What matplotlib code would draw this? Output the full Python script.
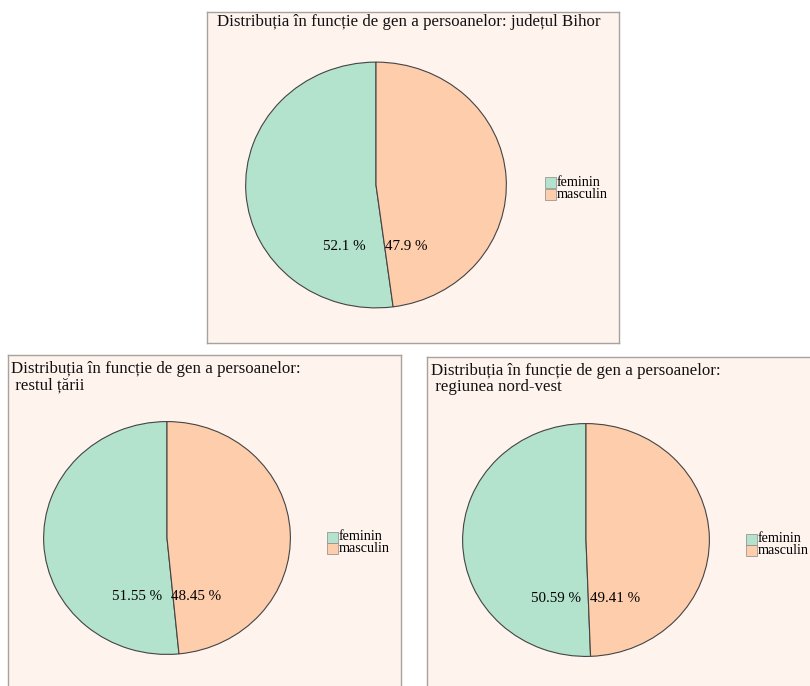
import matplotlib.pyplot as plt
from matplotlib.patches import Rectangle

plt.rcParams['font.family'] = ['Liberation Serif', 'DejaVu Serif']

categorii = ['feminin', 'masculin']
culori = ['#B3E2CD', '#FDCDAC']

titluri = [
    'Distribuția în funcție de gen a persoanelor: județul Bihor',
    'Distribuția în funcție de gen a persoanelor:\n restul țării',
    'Distribuția în funcție de gen a persoanelor:\n regiunea nord-vest',
]
bihor = [52.1, 47.9]
restul_tarii = [51.55, 48.45]
nord_vest = [50.59, 49.41]
valori = [bihor, restul_tarii, nord_vest]

W, H = 810, 686
fig = plt.figure(figsize=(W / 100, H / 100), dpi=100)
fig.patch.set_facecolor('white')


def rect(x0, y0, x1, y1):
    # pixel box (top-left origin) -> figure fraction
    return [x0 / W, 1 - y1 / H, (x1 - x0) / W, (y1 - y0) / H]


# panel boxes, pie centres/radii, legend position (pixels)
panouri = [
    dict(box=(207, 12, 619, 343), pie=(376, 185, 131, 123.5), leg=(550, 183), tx=(217, 14)),
    dict(box=(8, 355, 401, 700), pie=(167, 538, 124, 117), leg=(332, 537), tx=(11, 361)),
    dict(box=(427, 357, 830, 700), pie=(586, 540, 124, 117), leg=(751, 539), tx=(431, 363)),
]

for p, titlu, vals in zip(panouri, titluri, valori):
    x0, y0, x1, y1 = p['box']
    bg = fig.add_axes(rect(x0, y0, x1, y1))
    bg.set_facecolor('#FFF3EE')
    bg.set_xticks([])
    bg.set_yticks([])
    for s in bg.spines.values():
        s.set_color('#A8A29E')
        s.set_linewidth(1.0)

    tx, ty = p['tx']
    fig.text(tx / W, 1 - ty / H, titlu, fontsize=12.2, va='top', ha='left',
             color='#111111', linespacing=1.0)

    cx, cy, rx, ry = p['pie']
    ax = fig.add_axes(rect(cx - rx, cy - ry, cx + rx, cy + ry))
    ax.pie(vals, colors=culori, startangle=90, counterclock=True, radius=1,
           wedgeprops=dict(edgecolor='#444444', linewidth=0.8))
    ax.set_aspect('auto')
    ax.set_xlim(-1.005, 1.005)
    ax.set_ylim(-1.005, 1.005)
    ax.patch.set_alpha(0)
    ax.text(-0.24, -0.5, f'{vals[0]} %', ha='center', va='center', fontsize=10.8)
    ax.text(0.235, -0.5, f'{vals[1]} %', ha='center', va='center', fontsize=10.8)

    lx, ly = p['leg']
    for i, (cat, col) in enumerate(zip(categorii, culori)):
        yy = ly + i * 11.5
        fig.patches.append(Rectangle(((lx - 5) / W, 1 - (yy + 5.5) / H), 11 / W, 11 / H,
                                     transform=fig.transFigure, facecolor=col,
                                     edgecolor='#888888', linewidth=0.5))
        fig.text((lx + 7) / W, 1 - yy / H, cat, fontsize=10.2, va='center', ha='left')

fig.savefig('out.png', dpi=100, facecolor='white')
